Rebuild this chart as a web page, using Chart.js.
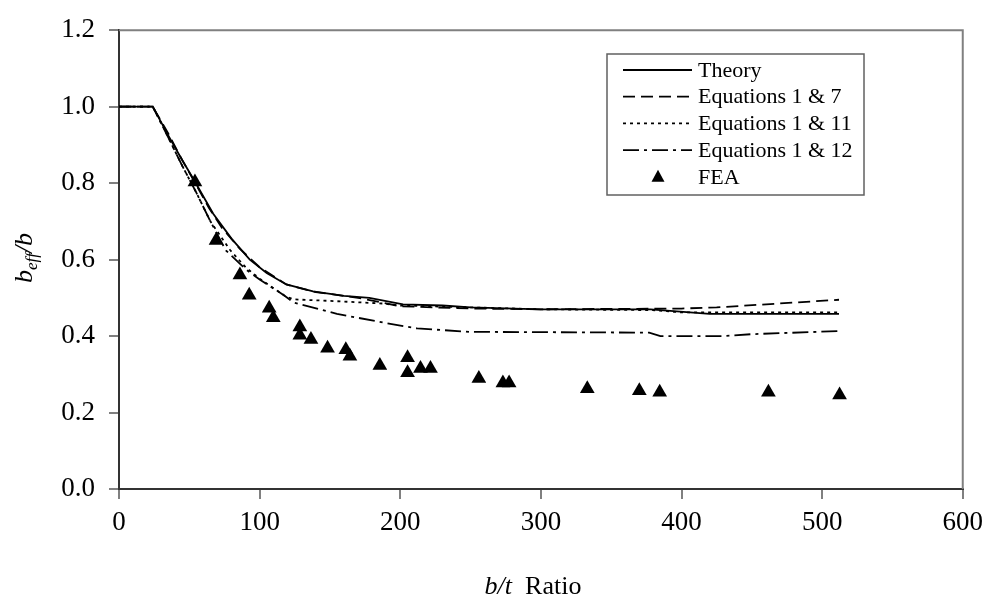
<!DOCTYPE html>
<html lang="en">
<head>
    <meta charset="UTF-8">
    <title>Effective width ratio vs b/t</title>
    <script src="https://cdn.jsdelivr.net/npm/chart.js"></script>
    <style>
        body {
            margin: 0;
            padding: 0;
            background-color: white;
        }
        canvas {
            display: block;
        }
    </style>
</head>
<body>
    <canvas id="bEffChart" width="991" height="602"></canvas>

    <script>
        // Curve data (b/t ratio, beff/b)
        const theoryX = [0, 24, 35, 45, 53, 60, 67, 80, 93, 105, 119, 138, 160, 178, 202, 230, 250, 300, 378, 420, 512];
        const theoryY = [1, 1, 0.925, 0.86, 0.81, 0.765, 0.72, 0.655, 0.60, 0.565, 0.535, 0.517, 0.505, 0.50, 0.483, 0.48, 0.475, 0.47, 0.47, 0.458, 0.458];

        const eq7X = [0, 24, 35, 45, 55, 64, 73, 86, 100, 119, 140, 170, 200, 250, 300, 400, 425, 512];
        const eq7Y = [1, 1, 0.93, 0.86, 0.795, 0.735, 0.684, 0.628, 0.58, 0.535, 0.515, 0.50, 0.478, 0.472, 0.47, 0.472, 0.475, 0.495];

        const eq11X = [0, 24, 35, 45, 55, 65, 79, 90, 100, 118, 124, 150, 188, 200, 250, 300, 378, 400, 512];
        const eq11Y = [1, 1, 0.92, 0.845, 0.775, 0.70, 0.625, 0.58, 0.55, 0.505, 0.496, 0.492, 0.485, 0.48, 0.475, 0.47, 0.468, 0.462, 0.462];

        const eq12X = [0, 24, 35, 45, 55, 65, 76, 90, 100, 118, 124, 155, 190, 212, 249, 377, 385, 429, 450, 512];
        const eq12Y = [1, 1, 0.92, 0.845, 0.775, 0.70, 0.624, 0.575, 0.548, 0.505, 0.488, 0.458, 0.434, 0.42, 0.411, 0.409, 0.40, 0.40, 0.405, 0.413];

        const feaX = [54, 69, 86, 92.6, 106.8, 109.7, 128.6, 128.6, 136.5, 148.3, 161.3, 164.2, 185.5, 205.2, 205.2, 214.4, 221.5, 255.9, 273, 277.4, 333, 370, 384.5, 461.8, 512.4];
        const feaY = [0.803, 0.65, 0.56, 0.507, 0.473, 0.448, 0.424, 0.402, 0.391, 0.368, 0.364, 0.347, 0.323, 0.343, 0.304, 0.315, 0.315, 0.289, 0.277, 0.277, 0.262, 0.257, 0.253, 0.253, 0.246];

        const xTicks = [0, 100, 200, 300, 400, 500, 600];
        const yTicks = [0, 0.2, 0.4, 0.6, 0.8, 1.0, 1.2];

        const serif = "'Liberation Serif', 'Times New Roman', serif";

        function toPoints(xs, ys) {
            return xs.map((x, i) => ({ x: x, y: ys[i] }));
        }

        function lineSet(label, xs, ys, dash) {
            return {
                label: label,
                data: toPoints(xs, ys),
                showLine: true,
                borderColor: '#000',
                backgroundColor: '#000',
                borderWidth: 1.8,
                borderDash: dash,
                pointRadius: 0,
                tension: 0
            };
        }

        // Legend box, plot frame and axis titles drawn by hand
        const extras = {
            id: 'extras',
            afterDraw(chart) {
                const ctx = chart.ctx;
                const a = chart.chartArea;
                ctx.save();

                // grey frame on top and right
                ctx.strokeStyle = '#808080';
                ctx.lineWidth = 2;
                ctx.beginPath();
                ctx.moveTo(a.left, a.top);
                ctx.lineTo(a.right, a.top);
                ctx.lineTo(a.right, a.bottom);
                ctx.stroke();

                // legend
                const box = { x: 607, y: 54, w: 257, h: 141 };
                ctx.fillStyle = '#fff';
                ctx.fillRect(box.x, box.y, box.w, box.h);
                ctx.strokeStyle = '#606060';
                ctx.lineWidth = 1.5;
                ctx.strokeRect(box.x, box.y, box.w, box.h);

                ctx.font = '22px ' + serif;
                ctx.textBaseline = 'middle';
                ctx.textAlign = 'left';
                chart.data.datasets.forEach((ds, i) => {
                    const y = 70 + i * 26.7;
                    if (ds.showLine) {
                        ctx.strokeStyle = '#000';
                        ctx.lineWidth = 1.8;
                        ctx.setLineDash(ds.borderDash || []);
                        ctx.beginPath();
                        ctx.moveTo(623, y);
                        ctx.lineTo(692, y);
                        ctx.stroke();
                        ctx.setLineDash([]);
                    } else {
                        ctx.fillStyle = '#000';
                        ctx.beginPath();
                        ctx.moveTo(658, y - 7);
                        ctx.lineTo(664.5, y + 5);
                        ctx.lineTo(651.5, y + 5);
                        ctx.closePath();
                        ctx.fill();
                    }
                    ctx.fillStyle = '#000';
                    ctx.fillText(ds.label, 698, y + 1);
                });

                // x title: italic b/t + Ratio
                ctx.textBaseline = 'alphabetic';
                const it = 'italic 26px ' + serif;
                const rm = '26px ' + serif;
                ctx.font = it;
                const w1 = ctx.measureText('b/t').width;
                ctx.font = rm;
                const w2 = ctx.measureText('  Ratio').width;
                let sx = 533 - (w1 + w2) / 2;
                ctx.font = it;
                ctx.fillText('b/t', sx, 594);
                ctx.font = rm;
                ctx.fillText('  Ratio', sx + w1, 594);

                // y title: b_eff/b rotated
                ctx.translate(32, 258);
                ctx.rotate(-Math.PI / 2);
                const sub = 'italic 17px ' + serif;
                ctx.font = it;
                const bw = ctx.measureText('b').width;
                const sw = ctx.measureText('/b').width;
                ctx.font = sub;
                const ew = ctx.measureText('eff').width;
                let tx = -(bw + ew + sw) / 2;
                ctx.font = it;
                ctx.fillText('b', tx, 0);
                ctx.font = sub;
                ctx.fillText('eff', tx + bw, 5);
                ctx.font = it;
                ctx.fillText('/b', tx + bw + ew, 0);

                ctx.restore();
            }
        };

        const ctx = document.getElementById('bEffChart').getContext('2d');
        const bEffChart = new Chart(ctx, {
            type: 'scatter',
            data: {
                datasets: [
                    lineSet('Theory', theoryX, theoryY, []),
                    lineSet('Equations 1 & 7', eq7X, eq7Y, [12, 6]),
                    lineSet('Equations 1 & 11', eq11X, eq11Y, [3, 4]),
                    lineSet('Equations 1 & 12', eq12X, eq12Y, [16, 5, 3, 5]),
                    {
                        label: 'FEA',
                        data: toPoints(feaX, feaY),
                        showLine: false,
                        pointStyle: 'triangle',
                        pointRadius: 8.5,
                        backgroundColor: '#000',
                        borderColor: '#000',
                        borderWidth: 0
                    }
                ]
            },
            options: {
                responsive: false,
                animation: false,
                layout: { padding: { top: 20, right: 28, left: 0, bottom: 0 } },
                plugins: {
                    legend: { display: false },
                    tooltip: { enabled: false }
                },
                scales: {
                    x: {
                        type: 'linear',
                        min: 0,
                        max: 600,
                        afterBuildTicks: s => { s.ticks = xTicks.map(v => ({ value: v })); },
                        afterFit: s => { s.height = 113; },
                        grid: { drawOnChartArea: false, color: '#808080', tickLength: 10, lineWidth: 2 },
                        border: { color: '#333', width: 2 },
                        ticks: { color: '#000', padding: 8, font: { family: serif, size: 27 } }
                    },
                    y: {
                        type: 'linear',
                        min: 0,
                        max: 1.2,
                        afterBuildTicks: s => { s.ticks = yTicks.map(v => ({ value: v })); },
                        afterFit: s => { s.width = 119; },
                        grid: { drawOnChartArea: false, color: '#808080', tickLength: 10, lineWidth: 2 },
                        border: { color: '#333', width: 2 },
                        ticks: {
                            color: '#000',
                            padding: 14,
                            font: { family: serif, size: 27 },
                            callback: v => v.toFixed(1)
                        }
                    }
                }
            },
            plugins: [extras]
        });
    </script>
</body>
</html>
